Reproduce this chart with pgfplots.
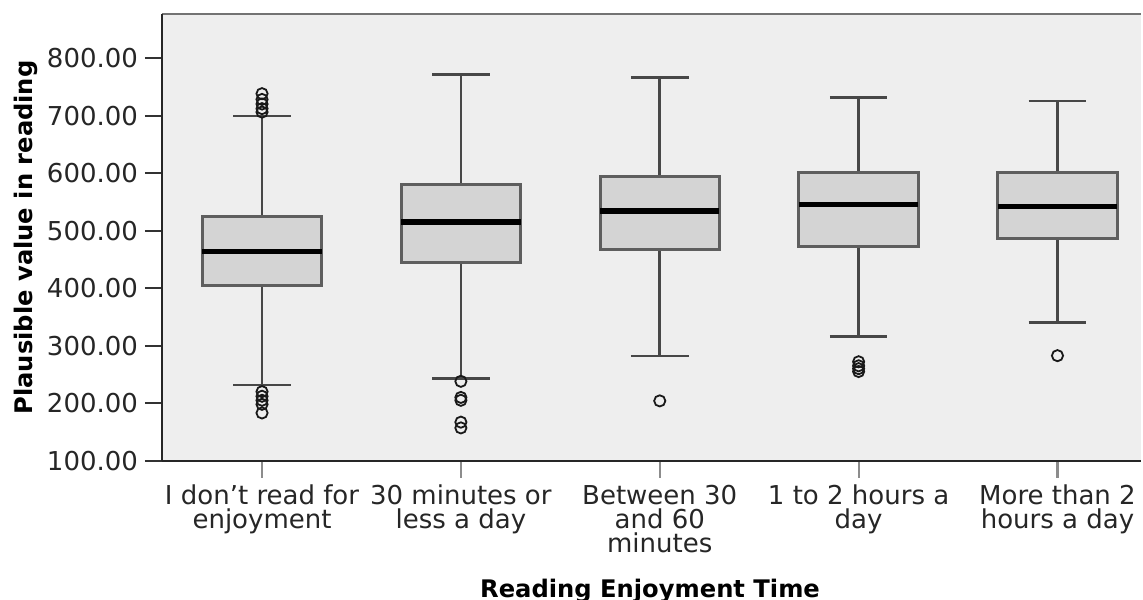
\documentclass[border=0pt]{standalone}
\usepackage{fontspec}
\setmainfont{DejaVu Sans}
\usepackage{pgfplots}
\pgfplotsset{compat=1.18}
\usepgfplotslibrary{statistics}
\definecolor{bg}{HTML}{EEEEEE}
\definecolor{boxfill}{HTML}{D4D4D4}
\definecolor{boxdraw}{HTML}{5E5E5E}
\begin{document}
\begin{tikzpicture}
\begin{axis}[
  scale only axis, width=489.5bp, height=223.2bp,
  xmin=-0.503, xmax=4.42, ymin=100, ymax=876,
  clip=false,
  axis background/.style={fill=bg},
  axis line style={draw=none},
  ytick={100,200,...,800},
  xtick={0,1,2,3,4},
  xticklabels={I don’t read for\\enjoyment, 30 minutes or\\less a day, Between 30\\and 60\\minutes, 1 to 2 hours a\\day, More than 2\\hours a day},
  tick align=outside, major tick length=8.5bp,
  xtick pos=bottom, ytick pos=left,
  y tick style={black!80, line width=1bp},
  x tick style={black!45, line width=1.1bp},
  tick label style={font=\fontsize{13bp}{12bp}\selectfont, text=black!85},
  xticklabel style={align=center},
  yticklabel style={/pgf/number format/.cd, fixed, fixed zerofill, precision=2, 1000 sep={}, assume math mode=true},
  xlabel={Reading Enjoyment Time},
  xlabel style={font=\bfseries\fontsize{12.1bp}{12bp}\selectfont, at={(axis description cs:0.4985,0)}, anchor=base, yshift=-68.15bp},
  ylabel={Plausible value in reading},
  ylabel style={font=\bfseries\fontsize{12.1bp}{12bp}\selectfont, at={(axis description cs:-0.1318,0.5)}, anchor=base},
  boxplot/draw direction=y,
  boxplot/every median/.style={draw=black, line width=2.6bp},
  boxplot/every whisker/.style={draw=black!72, line width=1.3bp},
  boxplot/every box/.style={draw=boxdraw, fill=boxfill, line width=1.5bp},
  myb/.style={mark=o, mark size=2.8bp, mark options={draw=black!90, fill=none, line width=0.9bp, solid}},
]
\addplot[myb, boxplot prepared={draw position=0, lower whisker=231.6, lower quartile=405, median=463.5, upper quartile=524, upper whisker=699, box extend=0.6, whisker extend=0.29}]
  coordinates {(0,738) (0,728) (0,720) (0,712) (0,706) (0,220) (0,212) (0,205) (0,198) (0,183)};
\addplot[myb, boxplot prepared={draw position=1, lower whisker=242.6, lower quartile=445, median=515, upper quartile=580.7, upper whisker=771, box extend=0.6, whisker extend=0.29}]
  coordinates {(1,238) (1,210) (1,205) (1,167) (1,157)};
\addplot[myb, boxplot prepared={draw position=2, lower whisker=282, lower quartile=467.6, median=534, upper quartile=594, upper whisker=766, box extend=0.6, whisker extend=0.29}]
  coordinates {(2,204)};
\addplot[myb, boxplot prepared={draw position=3, lower whisker=316, lower quartile=473, median=546, upper quartile=601.6, upper whisker=731, box extend=0.6, whisker extend=0.29}]
  coordinates {(3,272) (3,265) (3,260) (3,255)};
\addplot[myb, boxplot prepared={draw position=4, lower whisker=340, lower quartile=485.6, median=541.7, upper quartile=601, upper whisker=725.6, box extend=0.6, whisker extend=0.29}]
  coordinates {(4,282.6)};
\draw[black!55, line width=1.2bp] (rel axis cs:0,1) -- (rel axis cs:1,1);
\draw[black!85, line width=1.1bp] (rel axis cs:0,0) -- (rel axis cs:0,1);
\draw[black!85, line width=1.1bp] (rel axis cs:0,0) -- (rel axis cs:1,0);
\coordinate (BL) at (rel axis cs:0,0);
\coordinate (TR) at (rel axis cs:1,1);
\end{axis}
\pgfresetboundingbox
\path[use as bounding box] ([xshift=-81bp,yshift=-69.65bp]BL) rectangle ([xshift=1bp,yshift=7.15bp]TR);
\end{tikzpicture}
\end{document}
